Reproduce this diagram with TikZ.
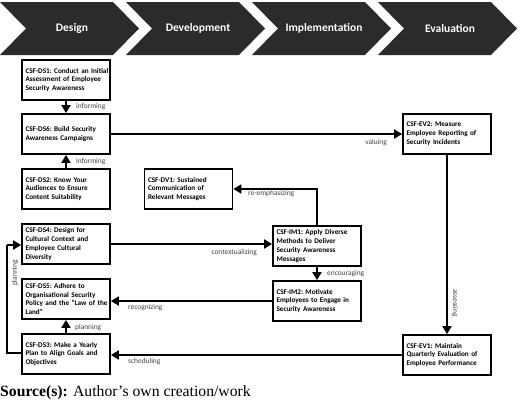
\documentclass[tikz,border=0pt]{standalone}
\usepackage{fontspec}
\setmainfont{Carlito}
\newfontfamily\srcfont{Liberation Serif}
\usetikzlibrary{arrows.meta}
\definecolor{chev}{HTML}{2B2B2B}
\definecolor{lbl}{HTML}{404040}
\begin{document}
\begin{tikzpicture}[x=1pt,y=-1pt,
  csf/.style={draw, line width=1.8pt, fill=white, text width=81pt, inner xsep=3.5pt, inner ysep=0pt,
    minimum height=40pt, align=left, font=\fontsize{7.2}{8.8}\selectfont\bfseries\frenchspacing},
  conn/.style={line width=2.5pt, -{Triangle[length=8pt,width=9pt]}},
  plain/.style={line width=2.5pt},
  lab/.style={font=\fontsize{7.4}{8.8}\selectfont, text=lbl, inner sep=0pt},
  chevtxt/.style={font=\fontsize{11.5}{13}\selectfont\bfseries, text=white}]
\useasboundingbox (0,0) rectangle (520,400);
% chevrons
\foreach \i/\t in {0/Design,1/Development,2/Implementation,3/Evaluation}{
  \fill[chev] (126*\i,2) -- ++(113,0) -- ++(26,26.5) -- ++(-26,26.5) -- ++(-113,0) -- ++(26,-26.5) -- cycle;
  \node[chevtxt] (ch\i) at (126*\i+72,28.5) {\t};
}
% boxes
\node[csf] (ds1) at (66,80) {\mbox{CSF-DS1: Conduct an Initial}\\\mbox{Assessment of Employee}\\Security Awareness};
\node[csf] (ds6) at (66,134) {CSF-DS6: Build Security\\Awareness Campaigns};
\node[csf] (ds2) at (66,189) {CSF-DS2: Know Your\\Audiences to Ensure\\Content Suitability};
\node[csf] (ds4) at (66,244) {CSF-DS4: Design for\\Cultural Context and\\Employee Cultural\\Diversity};
\node[csf] (ds5) at (66,299) {CSF-DS5: Adhere to\\\mbox{Organisational Security}\\\mbox{Policy and the “Law of the}\\Land”};
\node[csf] (ds3) at (66,354) {CSF-DS3: Make a Yearly\\\mbox{Plan to Align Goals and}\\Objectives};
\node[csf] (dv1) at (188.5,189) {CSF-DV1: Sustained\\Communication of\\Relevant Messages};
\node[csf] (im1) at (317,246) {\mbox{CSF-IM1: Apply Diverse}\\Methods to Deliver\\Security Awareness\\Messages};
\node[csf] (im2) at (317,301) {CSF-IM2: Motivate\\\mbox{Employees to Engage in}\\Security Awareness};
\node[csf] (ev2) at (447,134) {CSF-EV2: Measure\\\mbox{Employee Reporting of}\\Security Incidents};
\node[csf] (ev1) at (447,355) {CSF-EV1: Maintain\\\mbox{Quarterly Evaluation of}\\\mbox{Employee Performance}};
% connectors
\draw[conn] (ds1) -- (ds6);
\draw[conn] (ds2) -- (ds6);
\draw[conn] (ds6) -- (ev2);
\draw[conn] (ds4.east) -- (ds4.east -| im1.west);
\draw[conn] (im1.north) |- (dv1.east);
\draw[conn] (im1) -- (im2);
\draw[conn] (im2.west) -- (im2.west -| ds5.east);
\draw[conn] (ev2) -- (ev1);
\draw[conn] (ev1.west) -- (ev1.west -| ds3.east);
\draw[conn] (ds3) -- (ds5);
\coordinate (lpb) at (7,353);
\coordinate (lpt) at (7,245);
\draw[plain] (ds3.west |- lpb) -- (lpb) -- (lpt);
\draw[conn] (lpt) -- (lpt -| ds4.west);
% labels
\node[lab, anchor=west] (l1) at (76,107) {informing};
\node[lab, anchor=west] (l2) at (76,162) {informing};
\node[lab, anchor=east] (l3) at (387,143) {valuing};
\node[lab, anchor=east] (l4) at (257,253) {contextualizing};
\node[lab, anchor=west] (l5) at (248,194) {re-emphasizing};
\node[lab, anchor=west] (l6) at (327,274) {encouraging};
\node[lab, anchor=west] (l7) at (128,308) {recognizing};
\node[lab, anchor=west] (l8) at (128,362) {scheduling};
\node[lab, anchor=west] (l9) at (75,328) {planning};
\node[lab, rotate=90] (l10) at (15,273) {planning};
\node[lab, rotate=-90] (l11) at (455,303) {assessing};
% source
\node[anchor=base west, inner sep=0pt, font=\srcfont\fontsize{15.7}{18}\selectfont] (src) at (0,396) {\textbf{Source(s):} Author’s own creation/work};
\end{tikzpicture}
\end{document}
